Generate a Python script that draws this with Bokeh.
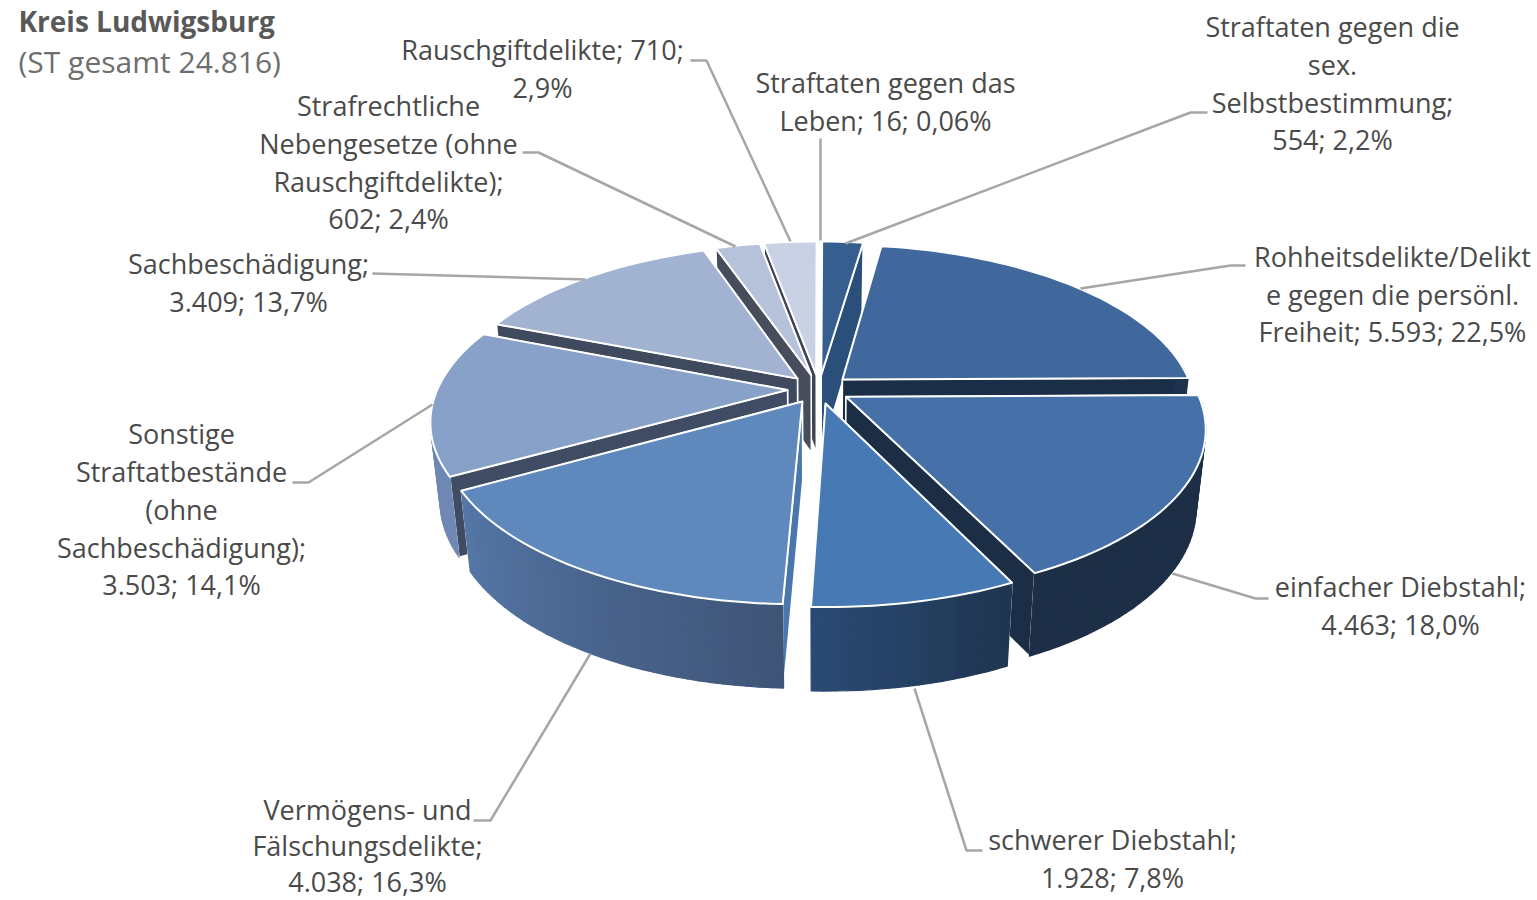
import numpy as np
from bokeh.embed import file_html
from bokeh.models import ColumnDataSource, Range1d
from bokeh.plotting import figure
from bokeh.resources import INLINE
from bokeh.core.properties import value

# ---- data ----
categories = ["Straftaten gegen das Leben", "Straftaten gegen die sex. Selbstbestimmung",
              "Rohheitsdelikte/Delikte gegen die persönl. Freiheit", "einfacher Diebstahl",
              "schwerer Diebstahl", "Vermögens- und Fälschungsdelikte",
              "Sonstige Straftatbestände (ohne Sachbeschädigung)", "Sachbeschädigung",
              "Strafrechtliche Nebengesetze (ohne Rauschgiftdelikte)", "Rauschgiftdelikte"]
values = [16, 554, 5593, 4463, 1928, 4038, 3503, 3409, 602, 710]

# ---- styles per slice ----
top_colors = ["#2f5684", "#365f8f", "#40689c", "#4670a8", "#477ab5", "#5f88bd", "#88a1c9", "#a2b3d2", "#b5c2da", "#c8d2e4"]
wall_from = ["#24405f", "#2b4f7b", "#1b2e47", "#1d2f47", "#1f3550", "#3f5578", "#7088b4", "#7f90ad", "#8a96ad", "#9aa5b8"]
wall_to = ["#24405f", "#2b4f7b", "#1e3350", "#1d2f47", "#2a4a73", "#5577a6", "#6d86b0", "#7f90ad", "#8a96ad", "#9aa5b8"]
cut_start = ["#24405f", "#2b4f7b", "#1b2e47", "#1b2e45", "#1f3550", "#4a77ad", "#3f4c64", "#3f4a5e", "#484d5b", "#3f4452"]
cut_end = ["#24405f", "#2b4f7b", "#1b2e47", "#1b2e45", "#1f3550", "#3f5578", "#3f4c64", "#3f4a5e", "#484d5b", "#4a4f5f"]

# ---- projection of the 3D pie ----
CX, CY, R = 818.5, 388.5, 350.0
EXPLODE, K, YS = 0.09, 0.178, 161.6
SHRINK, H0, H1 = 0.975, 78.0, 25.0


def project(u, w, low=False):
    s = 1.0 / (1.0 + K * w)
    x = CX + R * u * s
    y = CY - YS * w * s
    if low:
        x = CX + (x - CX) * SHRINK
        y = y + H0 + (s - 1.0) * H1
    return x, y


def mix(c1, c2, t):
    a = [int(c1[i:i + 2], 16) for i in (1, 3, 5)]
    b = [int(c2[i:i + 2], 16) for i in (1, 3, 5)]
    return "#%02x%02x%02x" % tuple(int(round(p + (q - p) * t)) for p, q in zip(a, b))


fractions = np.array(values, dtype=float) / sum(values)
edges = np.concatenate([[0.0], np.cumsum(fractions)]) * 2 * np.pi
mid = (edges[:-1] + edges[1:]) / 2
order = np.argsort(-np.cos(mid), kind="stable")

xs, ys, fills, lines, widths = [], [], [], [], []


def face(x, y, fill, line, width):
    xs.append(list(map(float, x)))
    ys.append(list(map(float, y)))
    fills.append(fill)
    lines.append(line)
    widths.append(width)


for i in order:
    du, dw = EXPLODE * np.sin(mid[i]), EXPLODE * np.cos(mid[i])
    n = max(3, int(np.ceil((edges[i + 1] - edges[i]) / 0.03)) + 1)
    th = np.linspace(edges[i], edges[i + 1], n)
    u, w = du + np.sin(th), dw + np.cos(th)
    xt, yt = project(u, w)
    xb, yb = project(u, w, True)
    ax, ay = project(np.array([du]), np.array([dw]))
    bx, by = project(np.array([du]), np.array([dw]), True)
    # cut faces: the one turned away from the viewer goes first
    cuts = [(yt[0], xt[0], yt[0], xb[0], yb[0], cut_start[i]),
            (yt[-1], xt[-1], yt[-1], xb[-1], yb[-1], cut_end[i])]
    cuts.sort(key=lambda c: c[0])
    for _, x1, y1, x2, y2, col in cuts:
        face([ax[0], x1, x2, bx[0]], [ay[0], y1, y2, by[0]], col, "white", 1.5)
    # outer wall as colour strips, only where it faces the viewer
    for j in range(n - 1):
        if np.cos(th[j]) > 0.12 and np.cos(th[j + 1]) > 0.12:
            continue
        c = mix(wall_from[i], wall_to[i], j / max(1, n - 2))
        face([xt[j], xt[j + 1], xb[j + 1], xb[j]], [yt[j], yt[j + 1], yb[j + 1], yb[j]], c, c, 1.2)
    # top face
    face(np.concatenate([ax, xt]), np.concatenate([ay, yt]), top_colors[i], "white", 2.0)

# ---- labels (centre x, centre y of each line) ----
label_lines = [
    ("Rauschgiftdelikte; 710;", 542, 49), ("2,9%", 542, 87),
    ("Straftaten gegen das", 885, 82), ("Leben; 16; 0,06%", 885, 120),
    ("Straftaten gegen die", 1332, 26), ("sex.", 1332, 64), ("Selbstbestimmung;", 1332, 102), ("554; 2,2%", 1332, 139),
    ("Rohheitsdelikte/Delikt", 1392, 256), ("e gegen die persönl.", 1392, 294), ("Freiheit; 5.593; 22,5%", 1392, 331),
    ("einfacher Diebstahl;", 1400, 586), ("4.463; 18,0%", 1400, 624),
    ("schwerer Diebstahl;", 1112, 839), ("1.928; 7,8%", 1112, 877),
    ("Vermögens- und", 367, 809), ("Fälschungsdelikte;", 367, 845), ("4.038; 16,3%", 367, 881),
    ("Sonstige", 181, 433), ("Straftatbestände", 181, 471), ("(ohne", 181, 509), ("Sachbeschädigung);", 181, 547), ("3.503; 14,1%", 181, 584),
    ("Sachbeschädigung;", 248, 263), ("3.409; 13,7%", 248, 301),
    ("Strafrechtliche", 388, 105), ("Nebengesetze (ohne", 388, 143), ("Rauschgiftdelikte);", 388, 181), ("602; 2,4%", 388, 218),
]
leaders = [
    ([690, 706, 790], [60, 60, 241]),
    ([820, 820], [138, 240]),
    ([1207, 1190, 845], [112, 112, 243]),
    ([1245, 1230, 1080], [265, 265, 288]),
    ([1268, 1255, 1172], [598, 598, 573]),
    ([982, 966, 914], [850, 850, 688]),
    ([473, 490, 590], [820, 820, 653]),
    ([292, 308, 432], [482, 482, 404]),
    ([372, 585], [273, 279]),
    ([522, 538, 735], [152, 152, 246]),
]

p = figure(width=1537, height=900, output_backend="svg", toolbar_location=None,
           x_range=Range1d(0, 1537), y_range=Range1d(900, 0), min_border=0,
           background_fill_color="white", border_fill_color="white", outline_line_color=None)
p.axis.visible = False
p.grid.visible = False

p.patches("xs", "ys", source=ColumnDataSource(dict(xs=xs, ys=ys, fill=fills, line=lines, lw=widths)),
          fill_color="fill", line_color="line", line_width="lw", line_join="round")
p.multi_line([l[0] for l in leaders], [l[1] for l in leaders], line_color="#a6a6a6", line_width=2.5)

p.text([t[1] for t in label_lines], [t[2] for t in label_lines], text=[t[0] for t in label_lines],
       text_font=value("Open Sans"), text_font_size="27px", text_color="#4a4a4a",
       text_align="center", text_baseline="middle")
p.text([18], [20], text=["Kreis Ludwigsburg"], text_font=value("Open Sans"), text_font_size="28px",
       text_font_style="bold", text_color="#595959", text_align="left", text_baseline="middle")
p.text([18], [61], text=["(ST gesamt 24.816)"], text_font=value("Open Sans"), text_font_size="30px",
       text_color="#6e6e6e", text_align="left", text_baseline="middle")

open("out.html", "w").write(file_html(p, INLINE))
